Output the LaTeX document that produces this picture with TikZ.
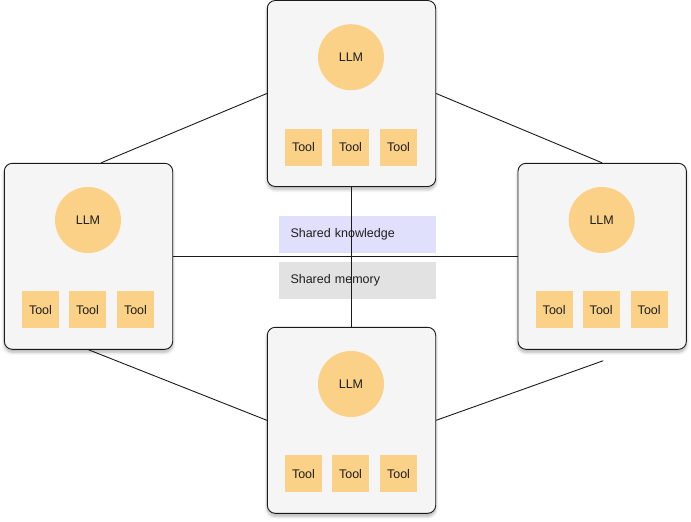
\documentclass[tikz,border=0pt]{standalone}
\usepackage{fontspec}
\setmainfont{Liberation Sans}
\usetikzlibrary{shadows.blur,calc}
\definecolor{boxfill}{HTML}{F5F5F5}
\definecolor{llmfill}{HTML}{FAD186}
\definecolor{knowfill}{HTML}{E0E0FC}
\definecolor{memfill}{HTML}{E2E2E2}
\definecolor{linecol}{HTML}{1A1A1A}
\definecolor{textcol}{HTML}{1E1E1E}
\tikzset{
  agentbox/.style={draw=linecol, line width=0.9pt, fill=boxfill, rounded corners=8pt,
    minimum width=168.4pt, minimum height=186pt, inner sep=0pt,
    blur shadow={shadow xshift=0pt, shadow yshift=-3pt, shadow blur steps=6, shadow opacity=30, shadow blur radius=3pt}},
  llm/.style={circle, fill=llmfill, minimum size=66pt, inner sep=0pt, text=textcol, font=\fontsize{12.5}{14}\selectfont},
  tool/.style={fill=llmfill, minimum size=37pt, inner sep=0pt, text=textcol, font=\fontsize{12.5}{14}\selectfont},
  shared/.style={minimum width=157pt, minimum height=36.7pt, inner sep=0pt, text width=134pt, inner xsep=11.5pt, align=left, text=textcol, font=\fontsize{12.5}{14}\selectfont},
  conn/.style={draw=linecol, line width=0.9pt},
}
\newcommand{\agent}[3]{%
  \node[agentbox] (#1) at (#2,#3) {};
  \node[llm] (#1llm) at ($(#1)+(-0.5,-36.3)$) {LLM};
  \node[tool] (#1t1) at ($(#1)+(-48,53.5)$) {Tool};
  \node[tool] (#1t2) at ($(#1)+(-1,53.5)$) {Tool};
  \node[tool] (#1t3) at ($(#1)+(47,53.5)$) {Tool};
}
\begin{document}
\begin{tikzpicture}[x=1pt,y=-1pt]
\useasboundingbox (0,0) rectangle (691,522);
\agent{top}{351.5}{93.5}
\agent{left}{88.5}{256.3}
\agent{right}{602.2}{256.3}
\agent{bottom}{351.5}{420.3}
\node[shared, fill=knowfill] (know) at (357.5,234.6) {Shared knowledge};
\node[shared, fill=memfill] (mem) at (357.5,280.7) {Shared memory};
\coordinate (lefttop) at ($(left.north)+(12.5,0)$);
\coordinate (rightfree) at ($(right.south)+(1,11)$);
\draw[conn] (lefttop) -- (top.west);
\draw[conn] (top.east) -- (right.north);
\draw[conn] (left.south) -- (bottom.west);
\draw[conn] (rightfree) -- (bottom.east);
\draw[conn] (left.east) -- (right.west);
\draw[conn] (top.south) -- (bottom.north);
\end{tikzpicture}
\end{document}
